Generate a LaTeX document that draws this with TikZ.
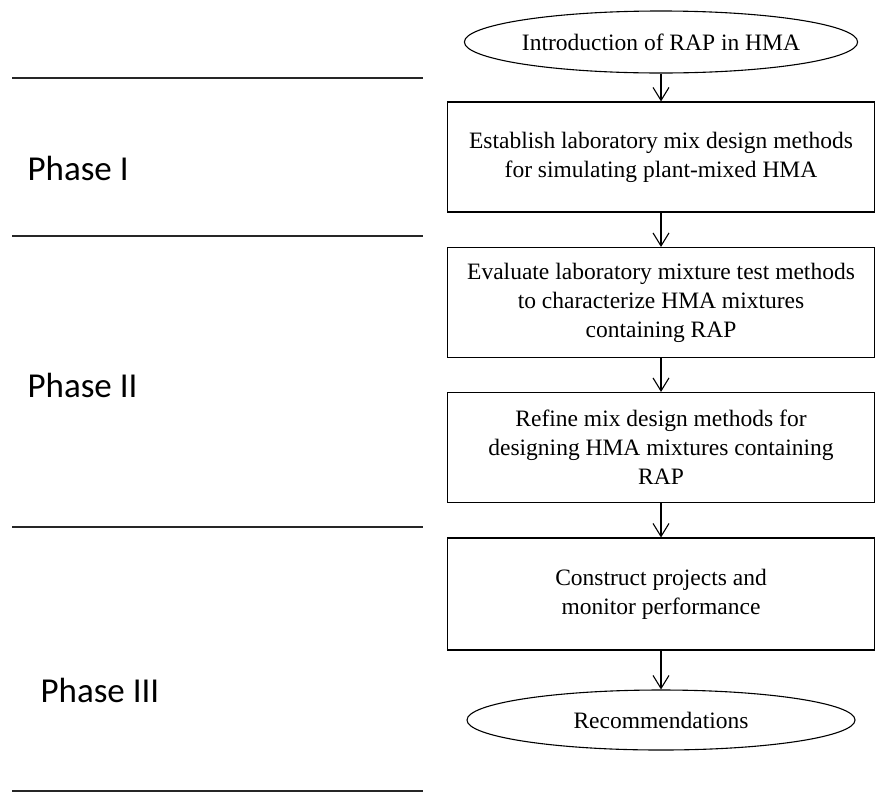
\documentclass[tikz,border=0pt]{standalone}
\usepackage{fontspec}
\setmainfont{Liberation Serif}
\newfontfamily\phasefont{Carlito}
\usetikzlibrary{arrows.meta}
\usetikzlibrary{shapes}
\usetikzlibrary{positioning}

\begin{document}
\begin{tikzpicture}[x=1pt, y=-1pt, line width=1.1pt,
  stepbox/.style={draw, minimum width=427pt, minimum height=110pt, inner sep=0pt, align=center, font=\fontsize{23.5}{29}\selectfont},
  endbox/.style={draw, ellipse, minimum width=388pt, minimum height=62pt, inner sep=0pt, font=\fontsize{23.5}{29}\selectfont},
  phase/.style={anchor=west, inner sep=0pt, font=\phasefont\fontsize{35}{42}\selectfont},
  flow/.style={-{Straight Barb[length=13pt, width=16pt]}}]

\useasboundingbox (0,0) rectangle (877,793);

% phase separators
\foreach \k in {78, 236, 527, 791} {
   \path[draw, black!85] (12, \k) -- (423, \k);
}

\node[phase] (ph1) at (27,168) {Phase I};
\node[phase] (ph2) at (27,385) {Phase II};
\node[phase] (ph3) at (40,690) {Phase III};

% flow of steps
\node[endbox] (intro) at (661,42) {Introduction of RAP in HMA};
\node[stepbox] (estab) at (661,157) {Establish laboratory mix design methods\\for simulating plant-mixed HMA};
\node[stepbox] (evalt) at (661,302.5) {Evaluate laboratory mixture test methods\\to characterize HMA mixtures\\containing RAP};
\node[stepbox] (refine) at (661,447.5) {Refine mix design methods for\\designing HMA mixtures containing\\RAP};
\node[stepbox, minimum height=112pt] (build) at (661,594) {Construct projects and\\monitor performance};
\node[endbox, minimum height=60pt] (recom) at (661,720) {Recommendations};

\path (intro) edge[flow] (estab);
\path (estab) edge[flow] (evalt);
\path (evalt) edge[flow] (refine);
\path (refine) edge[flow] (build);
\path (build) edge[flow] (recom);
\end{tikzpicture}
\end{document}
